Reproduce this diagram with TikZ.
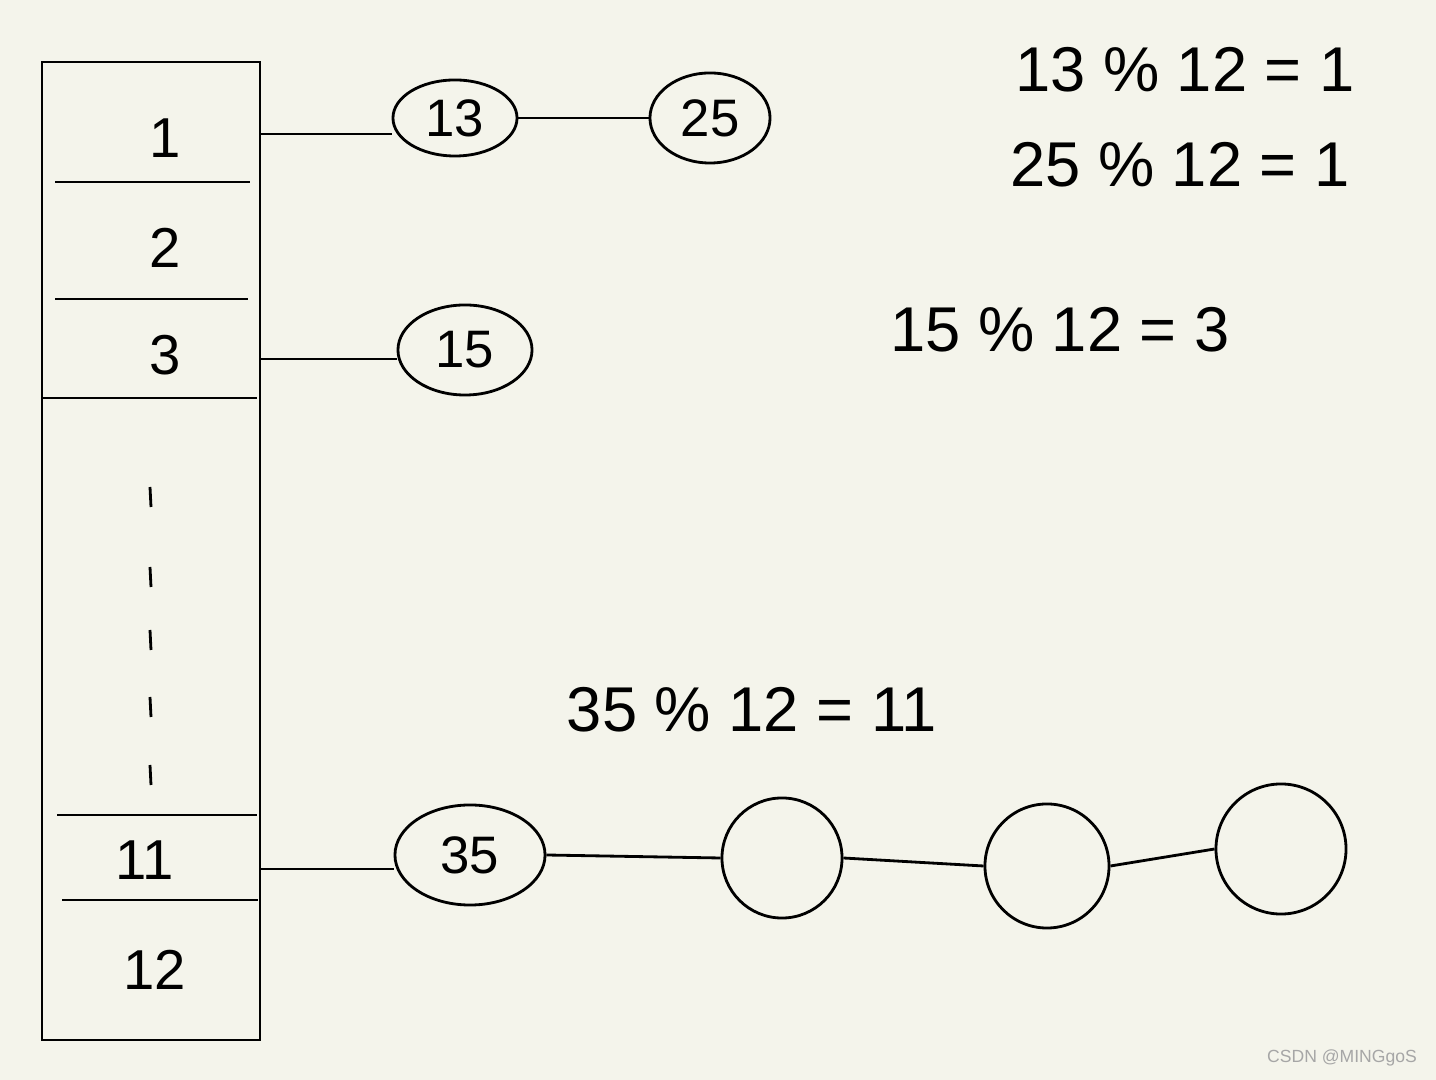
\documentclass[tikz,border=0pt]{standalone}
\usepackage{fontspec}
\setmainfont{Liberation Sans}
\usetikzlibrary{shapes.geometric}
\begin{document}
\begin{tikzpicture}[x=0.01cm,y=-0.01cm,line width=0.8pt,
  cell/.style={font=\fontsize{16}{18}\selectfont},
  eq/.style={font=\fontsize{18}{20}\selectfont},
  key/.style={draw,ellipse,font=\fontsize{15}{17}\selectfont,inner sep=0pt},
  empty/.style={draw,circle,inner sep=0pt}]
\fill[fill={rgb,255:red,244;green,244;blue,235}] (0,0) rectangle (1436,1080);
\useasboundingbox (0,0) rectangle (1436,1080);
\draw (42,62) rectangle (260,1040);
\draw (55,182) -- (250,182);
\draw (55,299) -- (248,299);
\draw (42,398) -- (257,398);
\draw (57,815) -- (257,815);
\draw (62,900) -- (258,900);
\node[cell] (c1) at (165,138) {1};
\node[cell] (c2) at (165,248) {2};
\node[cell] (c3) at (165,355) {3};
\node[cell] (c11) at (145,860) {11};
\node[cell] (c12) at (155,970) {12};
\foreach \yy in {497,577,640,707,775} \draw (150,\yy-10) -- (151,\yy+10);
\coordinate (p1) at (260,134);
\coordinate (p3) at (260,359);
\coordinate (p11) at (260,869);
\node[key,minimum width=1.24cm,minimum height=0.76cm] (n13) at (455,118) {13};
\node[key,minimum width=1.2cm,minimum height=0.9cm] (n25) at (710,118) {25};
\node[key,minimum width=1.34cm,minimum height=0.9cm] (n15) at (465,350) {15};
\node[key,minimum width=1.5cm,minimum height=1.0cm] (n35) at (470,855) {35};
\node[empty,minimum size=1.2cm] (e1) at (782,858) {};
\node[empty,minimum size=1.24cm] (e2) at (1047,866) {};
\node[empty,minimum size=1.3cm] (e3) at (1281,849) {};
\draw (p1) -- (n13.west |- p1);
\draw (n13.east) -- (n25.west);
\draw (p3) -- (n15.west |- p3);
\draw (p11) -- (n35.west |- p11);
\draw (n35.east) -- (e1.west);
\draw (e1.east) -- (e2.west);
\draw (e2.east) -- (e3.west);
\node[eq] (t1) at (1185,70) {13 \% 12 = 1};
\node[eq] (t2) at (1180,165) {25 \% 12 = 1};
\node[eq] (t3) at (1060,330) {15 \% 12 = 3};
\node[eq] (t4) at (752,710) {35 \% 12 = 11};
\node[font=\fontsize{5}{6}\selectfont,text=gray!70] (wm) at (1342,1058) {CSDN @MINGgoS};
\end{tikzpicture}
\end{document}
